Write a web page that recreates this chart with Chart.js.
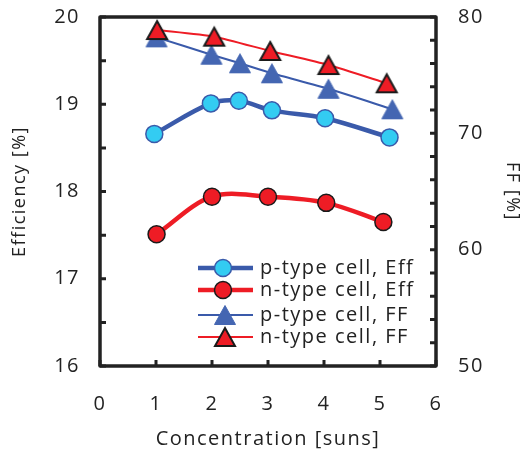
<!DOCTYPE html>
<html>
<head>
<meta charset="utf-8">
<script src="https://cdn.jsdelivr.net/npm/chart.js@4/dist/chart.umd.min.js"></script>
<style>
  html, body { margin: 0; padding: 0; background: #fff; }
  #wrap { width: 523px; height: 451px; position: relative; }
</style>
</head>
<body>
<div id="wrap"><canvas id="myChart"></canvas></div>
<script>
// series data (x = concentration in suns)
const pEffSuns = [0.97, 1.98, 2.48, 3.07, 4.02, 5.17];
const pEffValues = [18.66, 19.01, 19.04, 18.93, 18.84, 18.62];
const nEffSuns = [1.01, 2.0, 3.0, 4.04, 5.06];
const nEffValues = [17.51, 17.94, 17.94, 17.87, 17.65];
const pFFSuns = [1.01, 1.99, 2.5, 3.07, 4.08, 5.22];
const pFFValues = [78.25, 76.76, 76.02, 75.16, 73.83, 72.07];
const nFFSuns = [1.02, 2.04, 3.04, 4.08, 5.12];
const nFFValues = [78.88, 78.31, 77.08, 75.87, 74.3];

const legendLabels = ['p-type cell, Eff', 'n-type cell, Eff', 'p-type cell, FF', 'n-type cell, FF'];
const xTicks = [0, 1, 2, 3, 4, 5, 6];

const toPoints = (xs, ys) => xs.map((x, i) => ({ x: x, y: ys[i] }));

const FONT = "'Open Sans', sans-serif";
const INK = '#222';
const BLUE_LINE = '#3A5AAA';
const BLUE_TRI = '#4466B2';
const LIGHT_BLUE = '#33CCF2';
const RED = '#EE1C25';

function makeTriangle(fill, stroke, lw, w, h) {
  const c = document.createElement('canvas');
  c.width = w + 4;
  c.height = h + 4;
  const g = c.getContext('2d');
  const cx = c.width / 2, top = 2 + lw / 2, bot = c.height - 2 - lw / 2;
  g.beginPath();
  g.moveTo(cx, top);
  g.lineTo(cx + w / 2 - lw / 2, bot);
  g.lineTo(cx - w / 2 + lw / 2, bot);
  g.closePath();
  g.fillStyle = fill;
  g.fill();
  g.lineWidth = lw;
  g.strokeStyle = stroke;
  g.stroke();
  return c;
}

const redTri = makeTriangle(RED, '#1a1a1a', 2, 22, 20);
const blueTri = makeTriangle(BLUE_TRI, BLUE_TRI, 1, 22, 20);

// no extra label overflow padding, so the plot area sits where the layout says
const noLabelPad = (scale) => { scale.paddingTop = 0; scale.paddingBottom = 0; };

const frameAndTicks = {
  id: 'frameAndTicks',
  beforeDraw(chart) {
    chart.ctx.letterSpacing = '1.5px';
  },
  beforeDatasetsDraw(chart) {
    const { ctx, chartArea: a, scales } = chart;
    ctx.save();
    ctx.strokeStyle = INK;
    ctx.lineWidth = 3;
    ctx.lineCap = 'butt';
    ctx.beginPath();
    scales.y.ticks.forEach(t => {
      const py = scales.y.getPixelForValue(t.value);
      ctx.moveTo(a.left, py); ctx.lineTo(a.left + 6, py);
    });
    scales.y1.ticks.forEach(t => {
      const py = scales.y1.getPixelForValue(t.value);
      ctx.moveTo(a.right, py); ctx.lineTo(a.right - 6, py);
    });
    scales.x.ticks.forEach(t => {
      const px = scales.x.getPixelForValue(t.value);
      ctx.moveTo(px, a.bottom); ctx.lineTo(px, a.bottom - 6);
    });
    ctx.stroke();
    ctx.lineWidth = 3.5;
    ctx.lineJoin = 'round';
    ctx.strokeRect(a.left, a.top, a.right - a.left, a.bottom - a.top);
    ctx.restore();
  },
  afterDraw(chart) {
    const { ctx, chartArea: a } = chart;
    const rows = [268, 290, 315, 337];
    const x0 = a.left + 98, x1 = a.left + 153, mx = a.left + 125, tx = a.left + 160;
    const styles = [
      { color: BLUE_LINE, width: 4.5, marker: 'circle', fill: LIGHT_BLUE, stroke: BLUE_LINE },
      { color: RED, width: 4.5, marker: 'circle', fill: RED, stroke: '#1a1a1a' },
      { color: BLUE_LINE, width: 2, marker: blueTri },
      { color: RED, width: 2, marker: redTri },
    ];
    ctx.save();
    legendLabels.forEach((label, i) => {
      const s = styles[i];
      const y = rows[i];
      ctx.strokeStyle = s.color;
      ctx.lineWidth = s.width;
      ctx.beginPath();
      ctx.moveTo(x0, y); ctx.lineTo(x1, y);
      ctx.stroke();
      if (s.marker === 'circle') {
        ctx.beginPath();
        ctx.arc(mx - 2, y, 8.5, 0, Math.PI * 2);
        ctx.fillStyle = s.fill;
        ctx.fill();
        ctx.lineWidth = 1.5;
        ctx.strokeStyle = s.stroke;
        ctx.stroke();
      } else {
        ctx.drawImage(s.marker, mx - s.marker.width / 2, y - s.marker.height / 2);
      }
      ctx.fillStyle = INK;
      ctx.font = '20px ' + FONT;
      ctx.textAlign = 'left';
      ctx.textBaseline = 'middle';
      ctx.fillText(label, tx, y);
    });
    ctx.restore();
  }
};

new Chart('myChart', {
  type: 'line',
  data: {
    datasets: [
      {
        label: legendLabels[3],
        data: toPoints(nFFSuns, nFFValues),
        yAxisID: 'y1',
        borderColor: RED,
        borderWidth: 2,
        tension: 0.2,
        pointStyle: redTri,
        clip: false,
      },
      {
        label: legendLabels[2],
        data: toPoints(pFFSuns, pFFValues),
        yAxisID: 'y1',
        borderColor: BLUE_LINE,
        borderWidth: 2,
        tension: 0.2,
        pointStyle: blueTri,
        clip: false,
      },
      {
        label: legendLabels[1],
        data: toPoints(nEffSuns, nEffValues),
        yAxisID: 'y',
        borderColor: RED,
        borderWidth: 4.5,
        tension: 0.35,
        pointRadius: 8.5,
        pointBackgroundColor: RED,
        pointBorderColor: '#1a1a1a',
        pointBorderWidth: 1.5,
        clip: false,
      },
      {
        label: legendLabels[0],
        data: toPoints(pEffSuns, pEffValues),
        yAxisID: 'y',
        borderColor: BLUE_LINE,
        borderWidth: 4.5,
        tension: 0.35,
        pointRadius: 8.5,
        pointBackgroundColor: LIGHT_BLUE,
        pointBorderColor: BLUE_LINE,
        pointBorderWidth: 1.5,
        clip: false,
      },
    ],
  },
  options: {
    responsive: true,
    maintainAspectRatio: false,
    animation: false,
    layout: { padding: { top: 17, left: 0, right: 0, bottom: 0 } },
    plugins: {
      legend: { display: false },
      tooltip: { enabled: false },
    },
    scales: {
      x: {
        type: 'linear',
        min: 0,
        max: 6,
        afterBuildTicks: (scale) => { scale.ticks = xTicks.map(v => ({ value: v })); },
        afterFit: (scale) => { scale.height = 85; },
        grid: { display: false, drawTicks: false },
        border: { display: false },
        ticks: { color: INK, font: { family: FONT, size: 20 }, padding: 26, autoSkip: false },
        title: { display: true, text: 'Concentration [suns]', color: INK, font: { family: FONT, size: 20 }, padding: { top: 0, bottom: 0 } },
      },
      y: {
        position: 'left',
        min: 16,
        max: 20,
        afterFit: (scale) => { scale.width = 100; noLabelPad(scale); },
        grid: { display: false, drawTicks: false },
        border: { display: false },
        ticks: {
          stepSize: 0.5,
          autoSkip: false,
          color: INK,
          font: { family: FONT, size: 20 },
          padding: 20,
          callback: (v) => (Number.isInteger(v) ? v : ''),
        },
        title: { display: true, text: 'Efficiency [%]', color: INK, font: { family: FONT, size: 18 }, padding: { top: 9, bottom: 0 } },
      },
      y1: {
        position: 'right',
        min: 50,
        max: 80,
        afterFit: (scale) => { scale.width = 87; noLabelPad(scale); },
        grid: { display: false, drawTicks: false },
        border: { display: false },
        ticks: {
          stepSize: 2,
          autoSkip: false,
          color: INK,
          font: { family: FONT, size: 20 },
          padding: 22,
          callback: (v) => (Math.round(v) % 10 === 0 ? Math.round(v) : ''),
        },
        title: { display: true, text: 'FF [%]', color: INK, font: { family: FONT, size: 18 }, padding: { top: 0, bottom: 0 } },
      },
    },
  },
  plugins: [frameAndTicks],
});
</script>
</body>
</html>
